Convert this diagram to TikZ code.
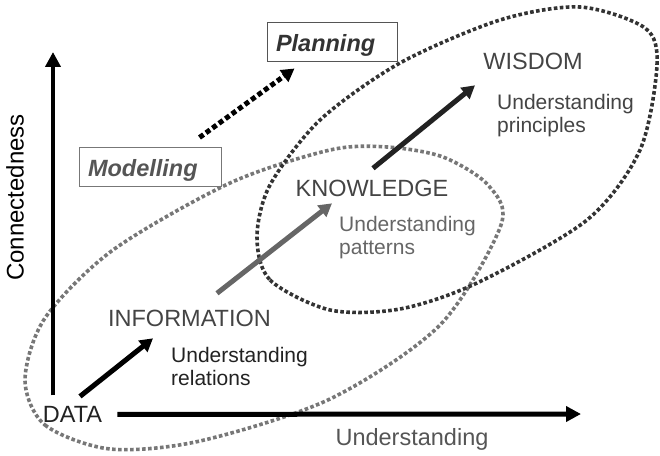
\documentclass[tikz,border=0pt]{standalone}
\usepackage{fontspec}
\setmainfont{Liberation Sans}
\usetikzlibrary{arrows.meta}

\definecolor{inkdark}{HTML}{222222}
\definecolor{inkmid}{HTML}{444444}
\definecolor{inkaxis}{HTML}{555555}
\definecolor{inkgray}{HTML}{666666}
\definecolor{ringgray}{HTML}{777777}
\definecolor{ringdark}{HTML}{333333}

\begin{document}
\begin{tikzpicture}[x=1pt,y=1pt,
  label text/.style={font=\fontsize{23.5}{28}\selectfont,inner sep=2pt},
  level node/.style={label text,text=inkmid,anchor=base},
  note node/.style={font=\fontsize{21}{23.5}\selectfont,align=left,inner sep=0pt,anchor=north west},
  task box/.style={draw,line width=1pt,font=\fontsize{23.5}{28}\bfseries\itshape\selectfont,
    minimum height=39pt,inner xsep=9pt,inner ysep=0pt,text depth=0pt,align=left},
  flow/.style={line width=5pt,-{Triangle[length=13pt,width=14pt]}},
  axis/.style={line width=4.5pt,-{Triangle[length=15pt,width=15pt]}},
  ring/.style={line width=3.6pt,dash pattern=on 3.6pt off 2.4pt}]

  \useasboundingbox (0,0) rectangle (660,455);

  % the two overlapping areas
  \draw[ring,ringgray] plot[smooth cycle] coordinates {(25,75) (45,30) (110,6) (200,14)
    (330,56) (440,130) (501,230) (488,270) (443,298) (387,308) (330,305) (230,272)
    (113,205) (45,137)};
  \draw[ring,ringdark] plot[smooth cycle] coordinates {(257,218) (270,175) (330,145)
    (400,146) (477,172) (587,235) (640,305) (657,390) (645,427) (580,448) (500,435)
    (400,392) (320,335) (270,270)};

  % levels
  \node[level node,text=inkdark] (data) at (72.5,32.5) {DATA};
  \node[level node] (info) at (189.5,129) {INFORMATION};
  \node[level node] (know) at (372,258) {KNOWLEDGE};
  \node[level node] (wis) at (533,385) {WISDOM};

  \node[note node,text=inkdark] (rel) at (171,108) {Understanding\\relations};
  \node[note node,text=inkgray] (pat) at (339,239) {Understanding\\patterns};
  \node[note node,text=inkmid] (prin) at (497,361) {Understanding\\principles};

  % axes
  \node[label text,anchor=base,text=inkaxis] (xlab) at (412,10) {Understanding};
  \node[font=\fontsize{24}{28}\selectfont,rotate=90] (ylab) at (15,257.5) {Connectedness};
  \coordinate (ytip) at (53,403);
  \coordinate (xtip) at (581,41);
  \draw[axis,shorten <=8.7pt] (ytip |- data.north) -- (ytip);
  \draw[axis,line width=5pt,shorten <=13pt] (data.east) -- (xtip);

  \node[task box,draw=ringgray,text=inkaxis,text width=124pt] (model) at (150,287.5) {Modelling};
  \node[task box,draw=inkaxis,text=ringdark,text width=112pt] (plan) at (332,412.5) {Planning};

  \draw[flow,black] ([shift={(7.5,18)}]data.center) -- ([shift={(-36.5,-20.4)}]info.center);
  \draw[flow,inkgray] ([shift={(27.5,24.6)}]info.center) -- ([shift={(-40,-14.4)}]know.center);
  \draw[flow,inkdark] ([shift={(1,20.6)}]know.center) -- ([shift={(-58,-23.4)}]wis.center);
  \draw[flow,dash pattern=on 5pt off 3pt] ([shift={(-22,10)}]model.north east)
    -- ([shift={(28,-6)}]plan.south west);
\end{tikzpicture}
\end{document}
